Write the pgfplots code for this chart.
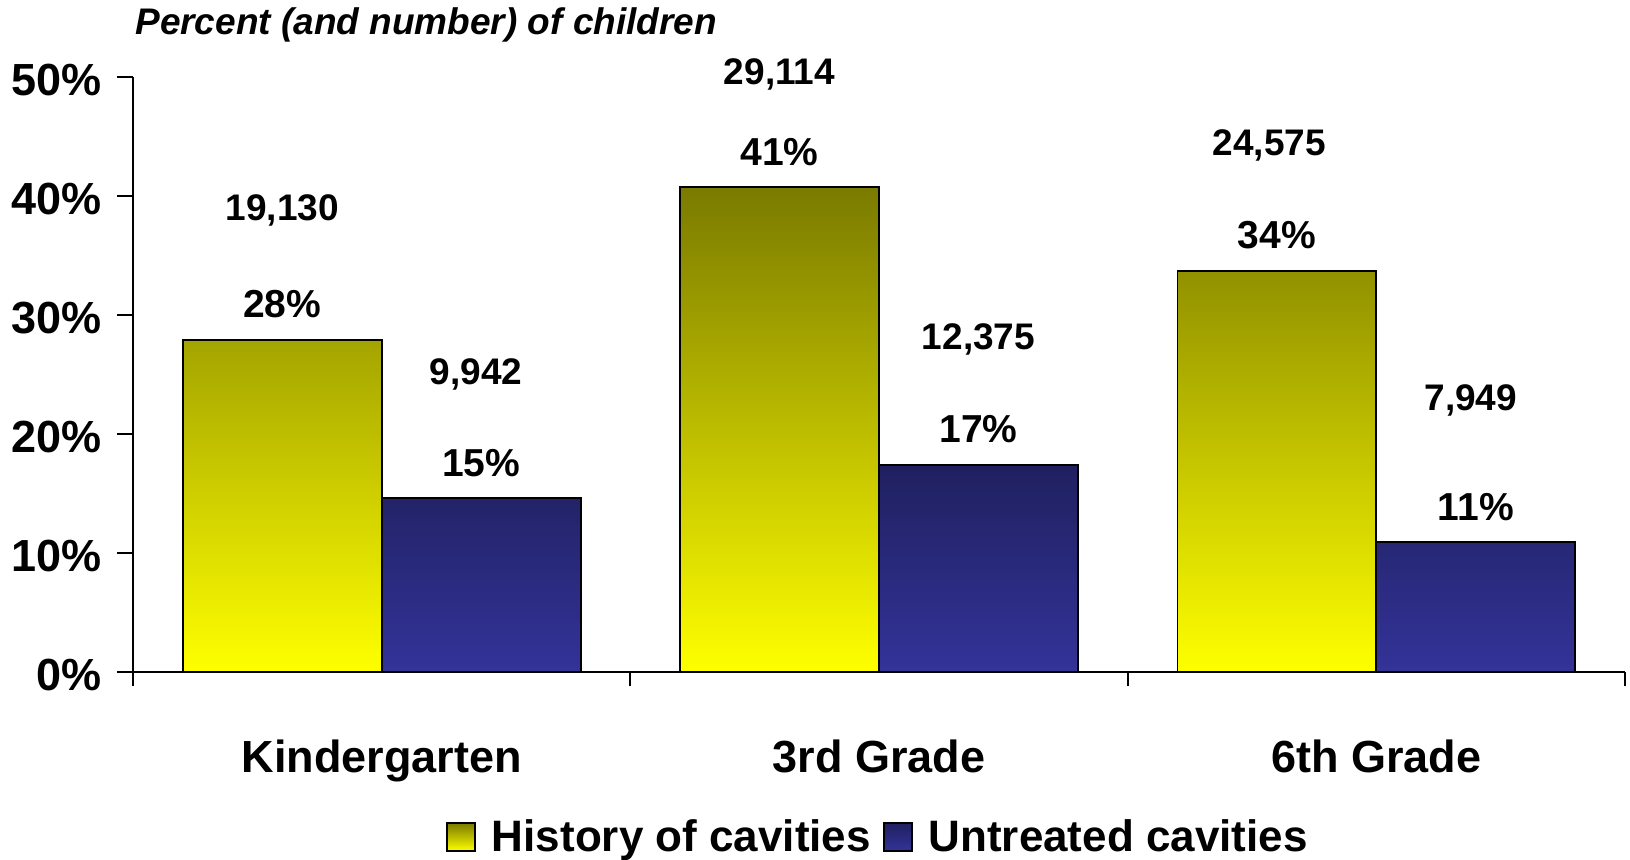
\documentclass[border=0pt]{standalone}
\usepackage{pgfplots}
\usepackage{pgfplotstable}
\pgfplotsset{compat=1.18}
\usepackage{fontspec}
\setmainfont{Liberation Sans}
\definecolor{histTop}{RGB}{122,122,0}
\definecolor{histBot}{RGB}{255,255,0}
\definecolor{untTop}{RGB}{32,32,96}
\definecolor{untBot}{RGB}{51,51,153}
\pgfplotstableread{
x hist unt
0 27.9 14.6
1 40.75 17.4
2 33.7 10.9
}\data
\begin{document}
\begin{tikzpicture}
\begin{axis}[
  scale only axis, width=746pt, height=297.5pt,
  xmin=-0.5, xmax=2.5, ymin=0, ymax=50,
  clip=false,
  axis x line*=bottom, axis y line*=left,
  axis line style={line width=1pt,-},
  ybar=0pt, bar width=0.4,
  xtick={0,1,2}, xticklabels={Kindergarten,3rd Grade,6th Grade},
  minor xtick={-0.5,0.5,1.5,2.5},
  ytick={0,10,20,30,40,50}, yticklabels={0\%,10\%,20\%,30\%,40\%,50\%},
  tick align=outside,
  major tick length=8pt, minor tick length=7pt,
  tick style={black, line width=1pt},
  major x tick style={draw=none},
  ticklabel style={font=\fontsize{22.5}{27}\selectfont\bfseries},
  xticklabel style={anchor=base, yshift=-42.4pt},
  yticklabel style={anchor=east, inner sep=0pt, xshift=-7.5pt, yshift=-1.5pt},
  nodes near coords={\pgfmathprintnumber[fixed,precision=0,assume math mode=true]{\pgfplotspointmeta}\%},
  point meta=y,
  every node near coord/.append style={anchor=base, yshift=11pt, font=\fontsize{19.5}{23}\selectfont\bfseries, black},
  legend style={at={(0.5,-0.2775)}, anchor=center, legend columns=2, draw=none, fill=none,
    font=\fontsize{22}{26}\selectfont\bfseries,
    /tikz/every odd column/.append style={column sep=6pt},
    /tikz/every even column/.append style={column sep=4pt}},
  legend image code/.code={\draw[#1, line width=0.8pt] (0pt,-7pt) rectangle (14pt,7pt);},
]
\addplot[draw=black, line width=0.9pt, top color=histTop, bottom color=histBot] table[x=x, y=hist] {\data};
\addplot[draw=black, line width=0.9pt, top color=untTop, bottom color=untBot] table[x=x, y=unt] {\data};
\legend{History of cavities, Untreated cavities}
\coordinate (O) at (rel axis cs:0,0);
\node[anchor=west, inner sep=0pt, font=\fontsize{18.5}{22}\selectfont\bfseries\itshape] at (rel axis cs:0.0013,1.0874) {Percent (and number) of children};
\begin{scope}[every node/.style={anchor=base, inner sep=0pt, font=\fontsize{18.5}{22}\selectfont\bfseries}]
\node at (axis cs:-0.2,37.9) {19,130};
\node at (axis cs:0.19,24.2) {9,942};
\node at (axis cs:0.8,49.4) {29,114};
\node at (axis cs:1.2,27.1) {12,375};
\node at (axis cs:1.785,43.4) {24,575};
\node at (axis cs:2.19,22.0) {7,949};
\end{scope}
\end{axis}
\pgfresetboundingbox
\path[use as bounding box] (O) ++(-66.5pt,-94pt) rectangle ++(815pt,430pt);
\end{tikzpicture}
\end{document}
